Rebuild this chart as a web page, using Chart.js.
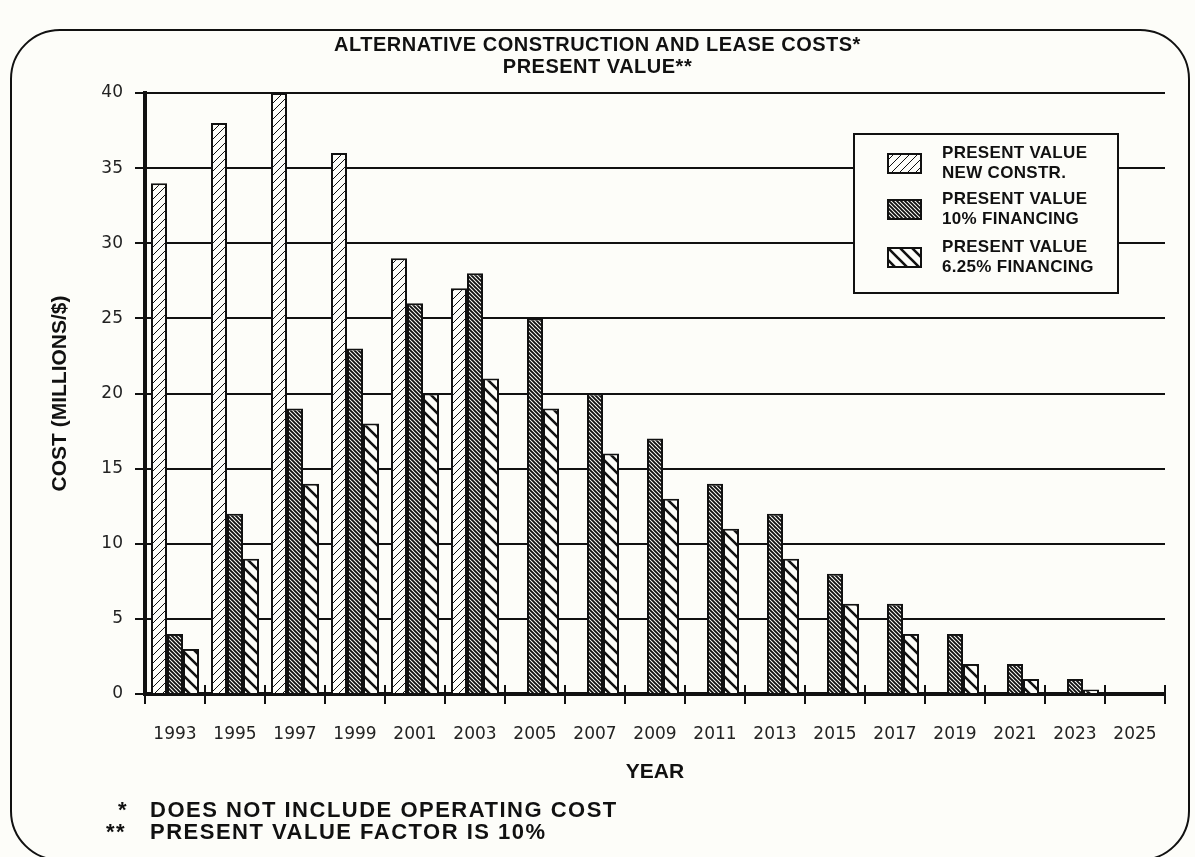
<!DOCTYPE html>
<html>
<head>
<meta charset="utf-8">
<script src="https://cdn.jsdelivr.net/npm/chart.js@4"></script>
<style>
  body { margin: 0; background: #fdfdf9; }
  #wrap { position: relative; width: 1195px; height: 857px; overflow: hidden; }
  #frame { position: absolute; left: 10px; top: 29px; width: 1180px; height: 832px; box-sizing: border-box;
           border: 2px solid #111; border-radius: 50px; }
  #c { position: absolute; left: 0; top: 0; }
  .title { position: absolute; left: 0; width: 1195px; text-align: center; color: #111;
           font: bold 20px "Liberation Sans", Arial, sans-serif; letter-spacing: 0.5px; line-height: 22px; }
  #legend { position: absolute; left: 853px; top: 133px; width: 266px; height: 161px; box-sizing: border-box;
            border: 2px solid #111; background: #fdfdf9; }
  .item { position: absolute; left: 32px; }
  .item canvas { position: absolute; left: 0; }
  .item div { position: absolute; left: 55px; top: -10px; width: 200px; color: #111;
              font: bold 17px "Liberation Sans", Arial, sans-serif; line-height: 20px; letter-spacing: 0.3px; }
  .note { position: absolute; color: #111; font: bold 22px "Liberation Sans", Arial, sans-serif; letter-spacing: 1.5px; line-height: 22px; }
</style>
</head>
<body>
<div id="wrap">
  <canvas id="c" width="1195" height="857"></canvas>
  <div id="frame"></div>
  <div class="title" style="top:33px">ALTERNATIVE CONSTRUCTION AND LEASE COSTS*</div>
  <div class="title" style="top:55px">PRESENT VALUE**</div>
  <div id="legend"></div>
  <div class="note" style="left:118px;top:799px">*</div>
  <div class="note" style="left:150px;top:799px">DOES NOT INCLUDE OPERATING COST</div>
  <div class="note" style="left:106px;top:821px">**</div>
  <div class="note" style="left:150px;top:821px">PRESENT VALUE FACTOR IS 10%</div>
</div>
<script>
// 年
const years = ['1993','1995','1997','1999','2001','2003','2005','2007','2009',
               '2011','2013','2015','2017','2019','2021','2023','2025'];
// 値 (百万ドル)
const newConstr = [34, 38, 40, 36, 29, 27, null, null, null, null, null, null, null, null, null, null, null];
const fin10     = [4, 12, 19, 23, 26, 28, 25, 20, 17, 14, 12, 8, 6, 4, 2, 1, null];
const fin625    = [3, 9, 14, 18, 20, 21, 19, 16, 13, 11, 9, 6, 4, 2, 1, 0.3, null];
const seriesNames = [['PRESENT VALUE', 'NEW CONSTR.'], ['PRESENT VALUE', '10% FINANCING'], ['PRESENT VALUE', '6.25% FINANCING']];
const yMin = 0, yMax = 40, yStep = 5;

const ctx = document.getElementById('c').getContext('2d');

// 斜線パターン
function hatch(size, lw, dir) {
  const t = document.createElement('canvas');
  t.width = t.height = size;
  const g = t.getContext('2d');
  g.fillStyle = '#fdfdf9';
  g.fillRect(0, 0, size, size);
  g.strokeStyle = '#111';
  g.lineWidth = lw;
  g.beginPath();
  if (dir > 0) { // "/"
    g.moveTo(-1, size + 1); g.lineTo(size + 1, -1);
    g.moveTo(-2, 2); g.lineTo(2, -2);
    g.moveTo(size - 2, size + 2); g.lineTo(size + 2, size - 2);
  } else {       // "\"
    g.moveTo(-1, -1); g.lineTo(size + 1, size + 1);
    g.moveTo(size - 2, -2); g.lineTo(size + 2, 2);
    g.moveTo(-2, size - 2); g.lineTo(2, size + 2);
  }
  g.stroke();
  return ctx.createPattern(t, 'repeat');
}
const patterns = [hatch(8, 1, 1), hatch(4, 1.9, -1), hatch(12, 2.6, -1)];

// 凡例
const legendTops = [18, 64, 112];
const legend = document.getElementById('legend');
seriesNames.forEach((name, i) => {
  const item = document.createElement('div');
  item.className = 'item';
  item.style.top = legendTops[i] + 'px';
  const sw = document.createElement('canvas');
  sw.width = 35; sw.height = 21;
  const sg = sw.getContext('2d');
  sg.fillStyle = patterns[i];
  sg.fillRect(0, 0, 35, 21);
  sg.strokeStyle = '#111'; sg.lineWidth = 2;
  sg.strokeRect(1, 1, 33, 19);
  item.appendChild(sw);
  const txt = document.createElement('div');
  txt.innerHTML = name.join('<br>');
  item.appendChild(txt);
  legend.appendChild(item);
});

// x軸の目盛り線(軸の上側)
const tickUp = {
  id: 'tickUp',
  afterDraw(chart) {
    const xs = chart.scales.x;
    const c = chart.ctx;
    c.save();
    c.strokeStyle = '#111';
    c.lineWidth = 2;
    for (let i = 0; i <= years.length; i++) {
      const x = xs.getPixelForValue(i - 0.5);
      c.beginPath();
      c.moveTo(x, xs.top - 9);
      c.lineTo(x, xs.top);
      c.stroke();
    }
    c.restore();
  }
};

new Chart(ctx, {
  type: 'bar',
  data: {
    labels: years,
    datasets: [
      { label: seriesNames[0].join(' '), data: newConstr, backgroundColor: patterns[0] },
      { label: seriesNames[1].join(' '), data: fin10, backgroundColor: patterns[1] },
      { label: seriesNames[2].join(' '), data: fin625, backgroundColor: patterns[2] }
    ]
  },
  options: {
    responsive: false,
    animation: false,
    layout: { padding: { top: 93, left: 48, right: 30, bottom: 72 } },
    datasets: {
      bar: { borderColor: '#111', borderWidth: 2, barPercentage: 1.0, categoryPercentage: 0.8 }
    },
    plugins: {
      legend: { display: false },
      title: { display: false },
      tooltip: { enabled: false }
    },
    scales: {
      x: {
        offset: true,
        grid: { offset: true, drawOnChartArea: false, color: '#111', lineWidth: 2, tickLength: 10 },
        border: { color: '#111', width: 4 },
        ticks: { color: '#222', font: { family: 'DejaVu Sans', size: 17 }, padding: 20, maxRotation: 0, autoSkip: false },
        title: { display: true, text: 'YEAR', color: '#111', padding: 0,
                 font: { family: 'Liberation Sans', weight: 'bold', size: 21 } },
        afterFit(s) { s.height = 91; }
      },
      y: {
        min: yMin,
        max: yMax,
        grid: { color: '#111', lineWidth: 2, tickLength: 10 },
        border: { color: '#111', width: 4 },
        ticks: { stepSize: yStep, color: '#222', font: { family: 'DejaVu Sans', size: 17 }, padding: 12 },
        title: { display: true, text: 'COST (MILLIONS/$)', color: '#111', padding: 0,
                 font: { family: 'Liberation Sans', weight: 'bold', size: 21 } },
        afterFit(s) { s.width = 97; }
      }
    }
  },
  plugins: [tickUp]
});
</script>
</body>
</html>
